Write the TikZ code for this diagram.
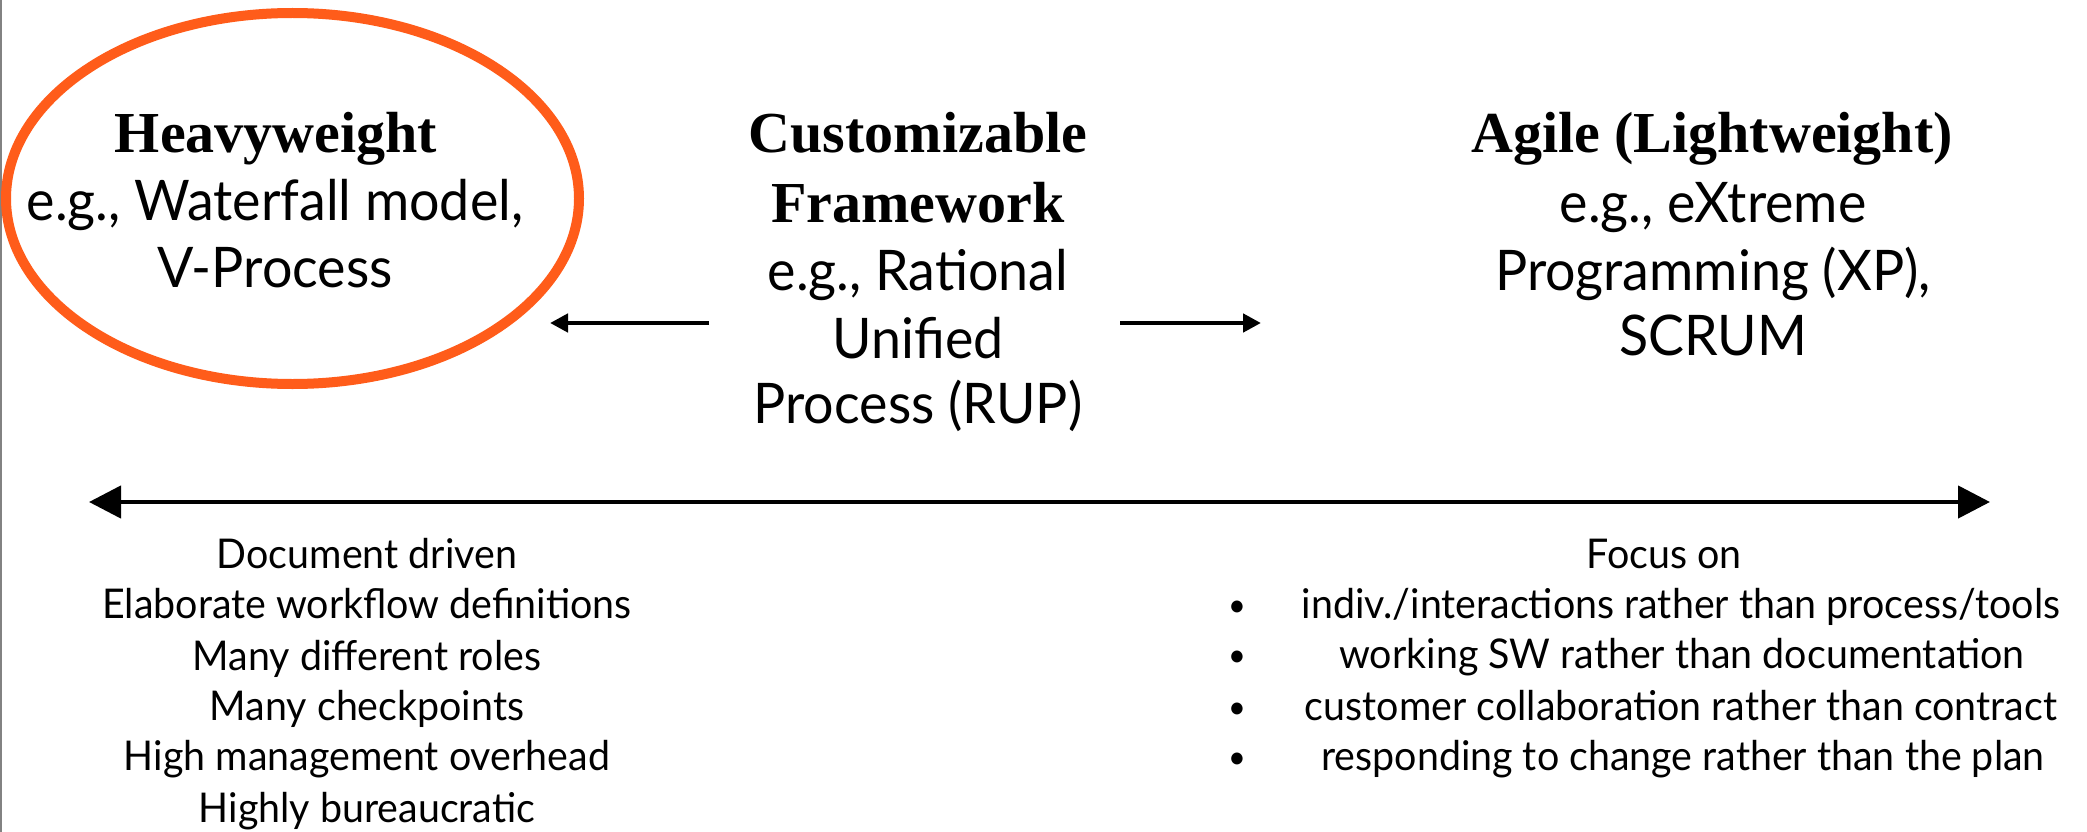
\documentclass[tikz,border=0pt]{standalone}
\usepackage{fontspec}
\setmainfont{Liberation Serif}
\newfontfamily\gillish[FakeStretch=0.96]{Lato}
\usetikzlibrary{arrows.meta,shapes.geometric}
\definecolor{ringorange}{RGB}{255,92,26}
\definecolor{edgegray}{RGB}{130,130,130}
\begin{document}
\begin{tikzpicture}[x=1pt,y=-1pt,
  title/.style={anchor=base,inner sep=0pt,font=\fontsize{58}{68}\selectfont\bfseries},
  big/.style={anchor=base,inner sep=0pt,font=\gillish\fontsize{56}{68}\selectfont},
  small/.style={anchor=base,inner sep=0pt,font=\gillish\fontsize{41}{51}\selectfont},
  dot/.style={anchor=base,inner sep=0pt,font=\gillish\fontsize{32}{51}\selectfont},
  thinarrow/.style={-{Triangle[length=18pt,width=18pt]},line width=4.5pt},
  axis/.style={{Triangle[length=32pt,width=32pt]}-{Triangle[length=32pt,width=32pt]},line width=4.5pt},
  ring/.style={draw=ringorange,line width=10pt,ellipse,inner sep=0pt}]
\useasboundingbox (0,0) rectangle (2087,832);
\fill[white] (0,0) rectangle (2087,832);
\draw[edgegray,line width=1.5pt] (0.75,0) -- (0.75,832);

% heavyweight end, circled
\node[ring,minimum width=573pt,minimum height=371pt] (ring) at (292.5,198.5) {};
\node[title] (hw1) at (276,152) {Heavyweight};
\node[big] (hw2) at (275,220) {e.g., Waterfall model,};
\node[big] (hw3) at (275,287) {V-Process};

% customizable framework in the middle
\node[title] (cf1) at (918,152) {Customizable};
\node[title] (cf2) at (918,222) {Framework};
\node[big] (cf3) at (918,290) {e.g., Rational};
\node[big] (cf4) at (918,358) {Unified};
\node[big] (cf5) at (918,423) {Process (RUP)};

% agile end
\node[title] (ag1) at (1712,152) {Agile (Lightweight)};
\node[big] (ag2) at (1713,222) {e.g., eXtreme};
\node[big] (ag3) at (1713,290) {Programming (XP),};
\node[big] (ag4) at (1713,355) {SCRUM};

% arrows out of the middle
\coordinate (la0) at (709,323);
\coordinate (la1) at (550,323);
\coordinate (ra0) at (1120,323);
\coordinate (ra1) at (1261,323);
\draw[thinarrow] (la0) -- (la1);
\draw[thinarrow] (ra0) -- (ra1);

% spectrum axis
\coordinate (axl) at (89,502);
\coordinate (axr) at (1990,502);
\draw[axis] (axl) -- (axr);

% heavyweight traits
\node[small] (t1) at (367,568) {Document driven};
\node[small] (t2) at (367,618) {Elaborate workflow definitions};
\node[small] (t3) at (367,670) {Many different roles};
\node[small] (t4) at (367,720) {Many checkpoints};
\node[small] (t5) at (367,770) {High management overhead};
\node[small] (t6) at (367,822) {Highly bureaucratic};

% agile focus list
\node[small] (f0) at (1664,568) {Focus on};
\node[dot] (b1) at (1237,616) {•};
\node[dot] (b2) at (1237,666) {•};
\node[dot] (b3) at (1237,718) {•};
\node[dot] (b4) at (1237,768) {•};
\node[small] (f1) at (1681,618) {indiv./interactions rather than process/tools};
\node[small] (f2) at (1682,668) {working SW rather than documentation};
\node[small] (f3) at (1681,720) {customer collaboration rather than contract};
\node[small] (f4) at (1683,770) {responding to change rather than the plan};
\end{tikzpicture}
\end{document}
